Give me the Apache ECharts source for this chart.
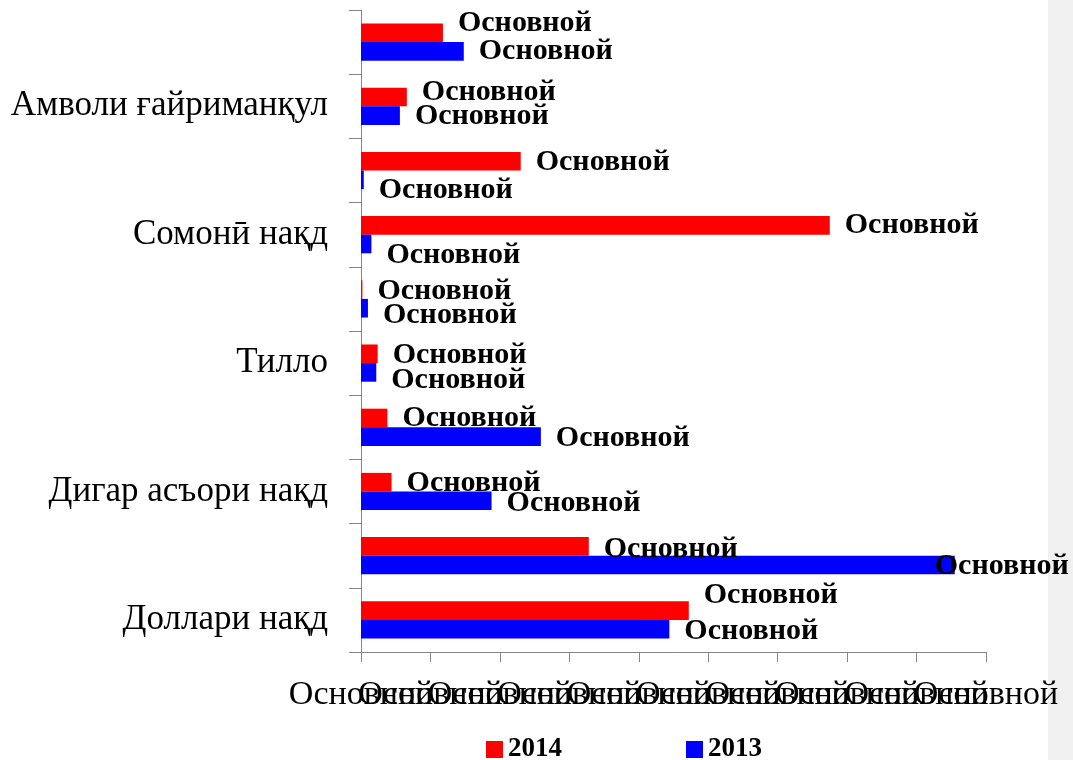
<!DOCTYPE html>
<html>
<head>
<meta charset="utf-8">
<script src="https://cdn.jsdelivr.net/npm/echarts@6/dist/echarts.min.js"></script>
<style>
  html, body { margin: 0; padding: 0; background: #fff; }
  #chart { width: 1073px; height: 760px; }
</style>
</head>
<body>
<div id="chart"></div>
<script>
// Categories from bottom to top; unlabelled rows are left blank
const categories = [
  'Доллари нақд', '', 'Дигар асъори нақд', '', 'Тилло', '',
  'Сомонӣ нақд', '', 'Амволи ғайриманқул', ''
];
const seriesNames = ['2014', '2013'];
const values2014 = [4.72, 3.28, 0.44, 0.38, 0.24, 0.02, 6.75, 2.30, 0.66, 1.18];
const values2013 = [4.44, 8.55, 1.88, 2.59, 0.22, 0.10, 0.15, 0.04, 0.56, 1.48];
const valueLabelText = 'Основной';
const tickLabelText = 'Основной';
const axisMin = 0, axisMax = 9, axisStep = 1;

// Label nudges [dx, dy] so neighbouring labels do not collide
const nudge2014 = [[0, -15], [0, 3], [0, 1], [0, 0], [0, 1], [0, 2], [0, 0], [0, 1], [0, -5], [0, -10]];
const nudge2013 = [[0, 2], [-35, 1], [0, 2], [0, 2], [0, 8], [0, 7], [0, 11], [0, 10], [0, 1], [0, 0]];

const serif = 'Liberation Serif';
const axisGray = '#868686';

function withNudges(vals, nudges) {
  return vals.map((v, i) => ({ value: v, label: { offset: nudges[i] } }));
}

const labelStyle = {
  show: true,
  position: 'right',
  distance: 15,
  formatter: () => valueLabelText,
  fontFamily: serif,
  fontWeight: 'bold',
  fontSize: 30,
  color: '#000'
};

// The main value axis draws the line and ticks; the tick labels are spread
// over three label-only axes so every one of them stays drawn even though
// neighbours overlap.
const mainXAxis = {
  type: 'value',
  min: axisMin, max: axisMax, interval: axisStep,
  splitLine: { show: false },
  axisLine: { show: true, lineStyle: { color: axisGray, width: 1 } },
  axisTick: { show: true, length: 10, lineStyle: { color: axisGray } },
  axisLabel: { show: false }
};
const labelXAxes = [0, 1, 2].map(k => ({
  type: 'value',
  position: 'bottom',
  offset: 0,
  min: axisMin, max: axisMax, interval: axisStep,
  splitLine: { show: false },
  axisLine: { show: false },
  axisTick: { show: false },
  axisLabel: {
    formatter: v => (Math.round((v - axisMin) / axisStep) % 3 === k ? tickLabelText : ''),
    hideOverlap: false,
    showMinLabel: true, showMaxLabel: true,
    margin: 26,
    fontFamily: serif, fontSize: 34, color: '#000'
  }
}));

const chart = echarts.init(document.getElementById('chart'), null, { renderer: 'canvas' });
chart.setOption({
  backgroundColor: '#fff',
  animation: false,
  graphic: [{
    type: 'rect',
    left: 1048, top: 0,
    shape: { width: 25, height: 760 },
    style: { fill: '#f0f0f0' },
    silent: true
  }],
  grid: { left: 361, right: 87, top: 10, bottom: 108, containLabel: false, outerBoundsMode: 'none' },
  legend: {
    data: seriesNames,
    left: 486,
    top: 736,
    padding: 0,
    icon: 'rect',
    itemWidth: 17,
    itemHeight: 17,
    itemGap: 124,
    textStyle: { fontFamily: serif, fontWeight: 'bold', fontSize: 27, color: '#000' }
  },
  xAxis: [mainXAxis].concat(labelXAxes),
  yAxis: {
    type: 'category',
    data: categories,
    axisLine: { show: true, lineStyle: { color: axisGray, width: 1 } },
    axisTick: { show: true, length: 12, lineStyle: { color: axisGray } },
    axisLabel: {
      interval: 0,
      margin: 33,
      fontFamily: serif, fontSize: 35, color: '#000'
    }
  },
  series: [
    {
      name: seriesNames[0],
      type: 'bar',
      xAxisIndex: 0,
      data: withNudges(values2014, nudge2014),
      itemStyle: { color: '#ff0000' },
      barGap: '0%',
      barCategoryGap: '42%',
      label: labelStyle
    },
    {
      name: seriesNames[1],
      type: 'bar',
      xAxisIndex: 0,
      data: withNudges(values2013, nudge2013),
      itemStyle: { color: '#0000ff' },
      barGap: '0%',
      barCategoryGap: '42%',
      label: labelStyle
    }
  ]
});
</script>
</body>
</html>
